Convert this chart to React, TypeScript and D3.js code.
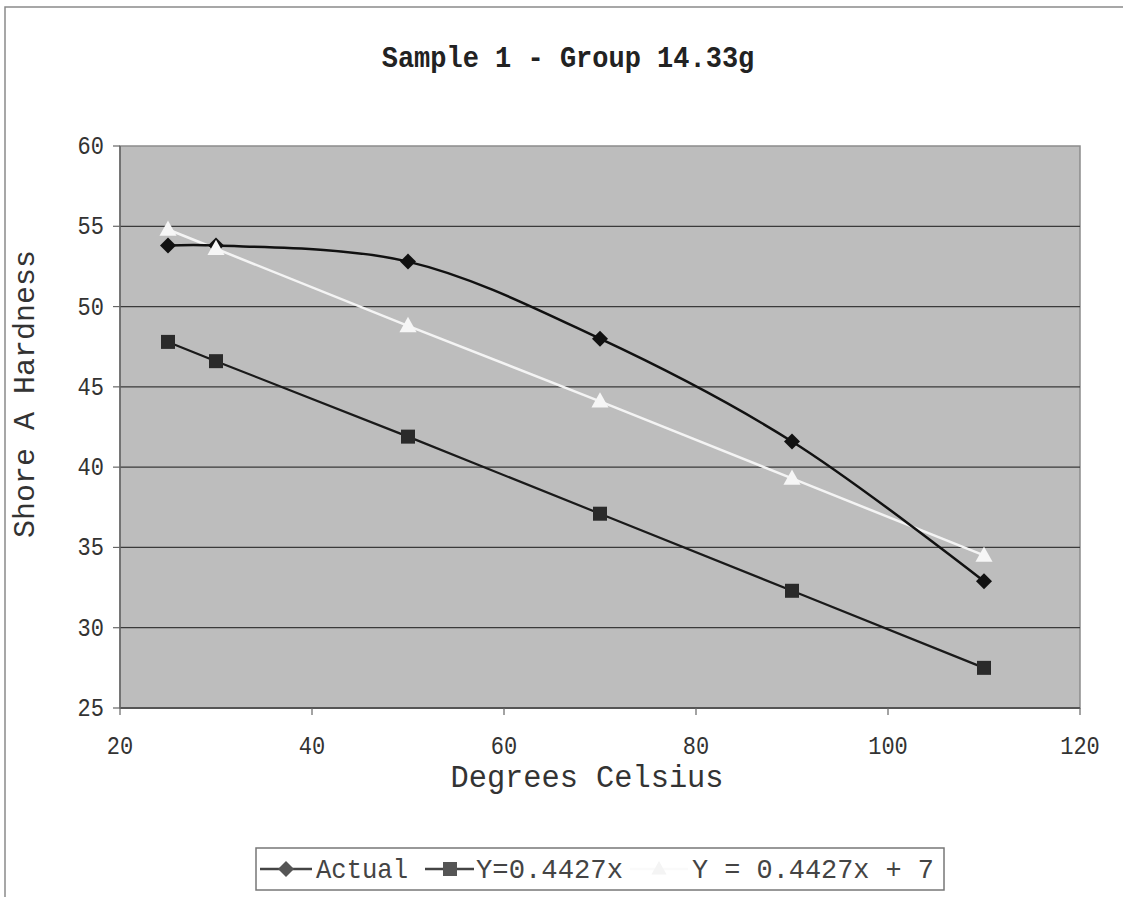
import React from "react";
import * as d3 from "d3";

const temps = [25, 30, 50, 70, 90, 110];
const actual = [53.8, 53.8, 52.8, 48.0, 41.6, 32.9];
const linearNoOffset = [47.8, 46.6, 41.9, 37.1, 32.3, 27.5];
const linearOffset = [54.8, 53.6, 48.8, 44.1, 39.3, 34.5];
const xTicks = [20, 40, 60, 80, 100, 120];
const yTicks = [25, 30, 35, 40, 45, 50, 55, 60];
const title = "Sample 1 - Group 14.33g";
const xTitle = "Degrees Celsius";
const yTitle = "Shore A Hardness";
const legendNames = ["Actual", "Y=0.4427x", "Y = 0.4427x + 7"];

const W = 1123;
const H = 897;
const M = { left: 120, right: 1080, top: 146, bottom: 708 };
const FONT = "'Liberation Mono', 'Courier New', monospace";

function T(props: { x: number; y: number; sy?: number; children: React.ReactNode; [k: string]: any }) {
  const { x, y, sy = 1, children, ...rest } = props;
  return (
    <text transform={`translate(${x},${y}) scale(1,${sy})`} fontFamily={FONT} {...rest}>
      {children}
    </text>
  );
}

export default function App() {
  const x = d3.scaleLinear().domain([20, 120]).range([M.left, M.right]);
  const y = d3.scaleLinear().domain([25, 60]).range([M.bottom, M.top]);

  const pts = (vals: number[]) => temps.map((t, i) => [x(t), y(vals[i])] as [number, number]);
  const smooth = d3.line().curve(d3.curveCatmullRom.alpha(0.5));
  const straight = d3.line();

  const diamond = (cx: number, cy: number, r: number) =>
    `M${cx},${cy - r}L${cx + r},${cy}L${cx},${cy + r}L${cx - r},${cy}Z`;
  const tri = (cx: number, cy: number, r: number) =>
    `M${cx},${cy - r}L${cx + r * 0.95},${cy + r * 0.7}L${cx - r * 0.95},${cy + r * 0.7}Z`;

  const legendY = 869;

  return (
    <div style={{ position: "fixed", left: 0, top: 0, width: W, height: H, background: "#fff" }}>
      <svg width={W} height={H} style={{ display: "block" }}>
        <rect x={0} y={0} width={W} height={H} fill="#fff" />
        <path d={`M5,${H}V7H${W}`} fill="none" stroke="#8a8a8a" strokeWidth={1.5} />

        <T x={568} y={67} sy={1.1} textAnchor="middle" fontWeight="bold" fontSize={27} fill="#222">
          {title}
        </T>

        <rect x={M.left} y={M.top} width={M.right - M.left} height={M.bottom - M.top} fill="#bdbdbd" stroke="#8c8c8c" strokeWidth={1.5} />
        {yTicks.filter((v) => v > 25 && v < 60).map((v) => (
          <line key={v} x1={M.left} x2={M.right} y1={y(v)} y2={y(v)} stroke="#3a3a3a" strokeWidth={1.3} />
        ))}
        <line x1={M.left} x2={M.right} y1={M.bottom} y2={M.bottom} stroke="#555" strokeWidth={2} />
        <line x1={M.left} x2={M.left} y1={M.top} y2={M.bottom} stroke="#666" strokeWidth={1.5} />
        {yTicks.map((v) => (
          <g key={v}>
            <line x1={M.left - 7} x2={M.left} y1={y(v)} y2={y(v)} stroke="#666" strokeWidth={1.2} />
            <T x={104} y={y(v) + 8} sy={1.18} textAnchor="end" fontSize={22} fill="#333">
              {v}
            </T>
          </g>
        ))}
        {xTicks.map((v) => (
          <g key={v}>
            <line x1={x(v)} x2={x(v)} y1={M.bottom} y2={M.bottom + 7} stroke="#666" strokeWidth={1.2} />
            <T x={x(v)} y={754} sy={1.18} textAnchor="middle" fontSize={22} fill="#333">
              {v}
            </T>
          </g>
        ))}
        <T x={587} y={787} sy={1.1} textAnchor="middle" fontSize={28} fill="#333" textLength={273} lengthAdjust="spacingAndGlyphs">
          {xTitle}
        </T>
        <text transform={`translate(34,394) rotate(-90)`} textAnchor="middle" fontFamily={FONT} fontSize={30} fill="#333">
          {yTitle}
        </text>

        <path d={straight(pts(linearOffset)) || ""} fill="none" stroke="#f4f4f4" strokeWidth={2.5} />
        <path d={straight(pts(linearNoOffset)) || ""} fill="none" stroke="#1a1a1a" strokeWidth={2.2} />
        <path d={smooth(pts(actual)) || ""} fill="none" stroke="#111" strokeWidth={2.5} />
        {pts(linearNoOffset).map(([cx, cy], i) => (
          <rect key={"s" + i} x={cx - 7} y={cy - 7} width={14} height={14} fill="#2a2a2a" />
        ))}
        {pts(actual).map(([cx, cy], i) => (
          <path key={"d" + i} d={diamond(cx, cy, 8)} fill="#111" />
        ))}
        {pts(linearOffset).map(([cx, cy], i) => (
          <path key={"t" + i} d={tri(cx, cy, 9)} fill="#f6f6f6" />
        ))}

        <rect x={256} y={848} width={688} height={42} fill="#fff" stroke="#777" strokeWidth={1.5} />
        <line x1={260} x2={312} y1={legendY} y2={legendY} stroke="#444" strokeWidth={2.5} />
        <path d={diamond(286, legendY, 8)} fill="#555" />
        <T x={316} y={legendY + 9} sy={1.12} fontSize={25.5} fill="#444" textLength={92} lengthAdjust="spacingAndGlyphs">
          {legendNames[0]}
        </T>
        <line x1={425} x2={474} y1={legendY} y2={legendY} stroke="#444" strokeWidth={2.5} />
        <rect x={443} y={legendY - 7} width={14} height={14} fill="#555" />
        <T x={476} y={legendY + 9} sy={1.12} fontSize={25.5} fill="#444" textLength={147} lengthAdjust="spacingAndGlyphs">
          {legendNames[1]}
        </T>
        <line x1={630} x2={688} y1={legendY} y2={legendY} stroke="#fafafa" strokeWidth={2.5} />
        <path d={tri(659, legendY, 8)} fill="#f4f4f4" />
        <T x={692} y={legendY + 9} sy={1.12} fontSize={25.5} fill="#444" textLength={242} lengthAdjust="spacingAndGlyphs">
          {legendNames[2]}
        </T>
      </svg>
    </div>
  );
}
